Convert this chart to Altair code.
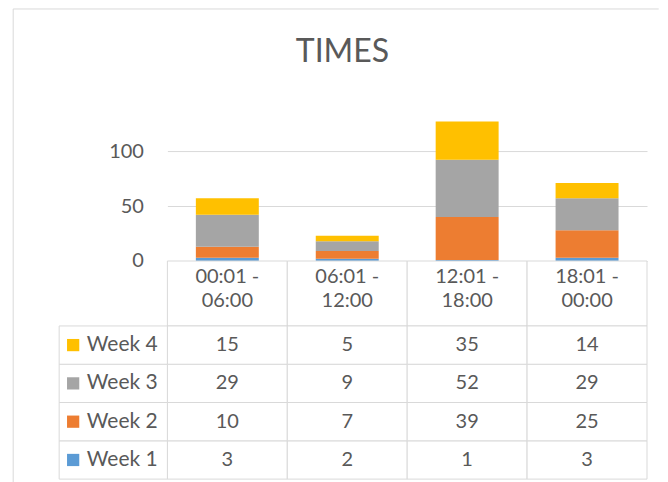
import altair as alt
import pandas as pd

# ---- data ----
categories = ["00:01 -\n06:00", "06:01 -\n12:00", "12:01 -\n18:00", "18:01 -\n00:00"]
series = ["Week 1", "Week 2", "Week 3", "Week 4"]
week1 = [3, 2, 1, 3]
week2 = [10, 7, 39, 25]
week3 = [29, 9, 52, 29]
week4 = [15, 5, 35, 14]
colors = ["#5B9BD5", "#ED7D31", "#A5A5A5", "#FFC000"]
y_ticks = [0, 50, 100]
title_text = ["TIMES"]

values = [week1, week2, week3, week4]
rows = []
for si, (s, vals) in enumerate(zip(series, values)):
    for c, v in zip(categories, vals):
        rows.append({"category": c, "week": s, "order": si, "value": v})
df = pd.DataFrame(rows)
head_df = pd.DataFrame({"category": categories})
lab_df = pd.DataFrame({"week": series})
title_df = pd.DataFrame({"t": title_text})
one = pd.DataFrame({"k": [0]})

# ---- style / layout ----
FONT = "Lato"
TXT = "#595959"
GRID = "#D9D9D9"
PLOT_W = 480
BAR_H = 154
HEAD_H = 65
TAB_H = 153.3

color = alt.Color("week:N", scale=alt.Scale(domain=series, range=colors), legend=None)

# ---- stacked bars ----
bars = alt.Chart(df).mark_bar().encode(
    x=alt.X("category:N", sort=categories, axis=None,
            scale=alt.Scale(paddingInner=0.475, paddingOuter=0.2375)),
    y=alt.Y("value:Q", stack="zero", scale=alt.Scale(domain=[0, 140]),
            axis=alt.Axis(values=y_ticks, grid=True, gridColor=GRID, domain=False,
                          ticks=False, labelPadding=24, labelFont=FONT,
                          labelFontSize=20, labelColor=TXT, title=None)),
    color=color,
    order=alt.Order("order:Q", sort="ascending"),
)
title_mark = alt.Chart(title_df).mark_text(
    font=FONT, fontSize=32, color=TXT, align="center", baseline="alphabetic"
).encode(x=alt.value(175.2), y=alt.value(-44.7), text="t:N")
top = alt.layer(bars, title_mark).properties(width=PLOT_W, height=BAR_H)

# ---- header row of the data table ----
head_x = alt.X("category:N", sort=categories, axis=None, scale=alt.Scale(padding=0))
head_cells = alt.Chart(head_df).mark_rect(fill="white", stroke=GRID, strokeWidth=1).encode(x=head_x)
head_text = alt.Chart(head_df).mark_text(
    font=FONT, fontSize=20, color=TXT, lineBreak="\n", lineHeight=24,
    baseline="alphabetic",
).encode(x=head_x, y=alt.value(22), text="category:N")
header = alt.layer(head_cells, head_text).properties(width=PLOT_W, height=HEAD_H)

# ---- data table ----
tab_x = alt.X("category:N", sort=categories, axis=None, scale=alt.Scale(padding=0))
tab_y = alt.Y("week:N", sort=series[::-1], axis=None, scale=alt.Scale(padding=0))
cells = alt.Chart(df).mark_rect(fill="white", stroke=GRID, strokeWidth=1).encode(x=tab_x, y=tab_y)
cell_text = alt.Chart(df).mark_text(font=FONT, fontSize=20, color=TXT, baseline="middle").encode(
    x=tab_x, y=tab_y, text="value:Q")
lab_cells = alt.Chart(lab_df).mark_rect(fill="white", stroke=GRID, strokeWidth=1).encode(
    x=alt.value(-108.3), x2=alt.value(0), y=tab_y)
lab_keys = alt.Chart(lab_df).mark_square(size=150, opacity=1).encode(
    x=alt.value(-94.3), y=tab_y, color=color)
lab_text = alt.Chart(lab_df).mark_text(font=FONT, fontSize=21, color=TXT, align="left",
                                       baseline="middle").encode(
    x=alt.value(-80.6), y=tab_y, text="week:N")
frame_top = alt.Chart(one).mark_rule(color=GRID, strokeWidth=1).encode(
    x=alt.value(-154.3), x2=alt.value(491.7), y=alt.value(-317.2))
frame_left = alt.Chart(one).mark_rule(color=GRID, strokeWidth=1).encode(
    x=alt.value(-154.3), y=alt.value(-317.2), y2=alt.value(158))
table = alt.layer(cells, cell_text, lab_cells, lab_keys, lab_text, frame_top, frame_left).properties(
    width=PLOT_W, height=TAB_H)

chart = alt.vconcat(top, header, table, spacing=0, bounds="flush").resolve_scale(
    x="independent", y="independent"
).properties(
    padding={"left": 4.5, "top": 0, "right": 0, "bottom": 0},
    background="white",
).configure_view(stroke=None)

chart.save("out.html", embed_options={"renderer": "svg", "actions": False})
